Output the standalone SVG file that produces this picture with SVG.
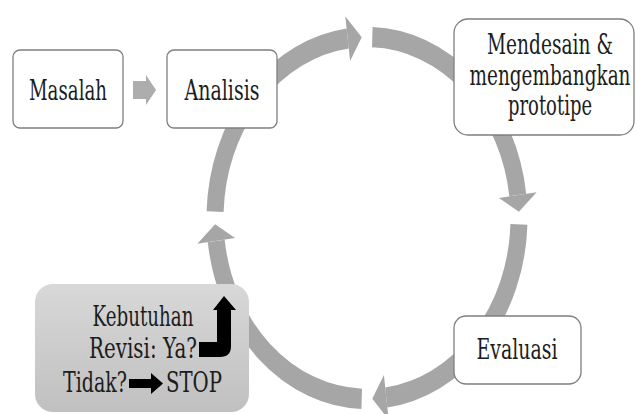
<svg xmlns="http://www.w3.org/2000/svg" width="636" height="414" viewBox="0 0 636 414">
<style>
.box{fill:#ffffff;stroke:#7f7f7f;stroke-width:1.3}
.t{font-family:'DejaVu Serif','Liberation Serif',serif;font-size:18.5px;fill:#1c1c1c;text-anchor:middle}
.ts{font-family:'DejaVu Serif','Liberation Serif',serif;font-size:18.5px;fill:#1c1c1c;text-anchor:start}
.arc{fill:none;stroke:#a6a6a6;stroke-width:17}
.head{fill:#a6a6a6}
</style>
<defs>
<linearGradient id="gk" x1="0" y1="0" x2="0" y2="1">
<stop offset="0" stop-color="#d8d8d8"/>
<stop offset="1" stop-color="#c0c0c0"/>
</linearGradient>
</defs>
<rect width="636" height="414" fill="#ffffff"/>
<g id="connectors">
<g transform="translate(367,218) scale(1,1.19)">
<path class="arc" d="M-151.91,-5.30 A152,152 0 0 1 -19.31,-150.77"/>
<polygon class="head" points="-5.30,-151.91 -16.90,-131.92 -21.73,-169.61"/>
<path class="arc" d="M5.30,-151.91 A152,152 0 0 1 150.77,-19.31"/>
<polygon class="head" points="151.91,-5.30 131.92,-16.90 169.61,-21.73"/>
<path class="arc" d="M151.91,5.30 A152,152 0 0 1 19.31,150.77"/>
<polygon class="head" points="5.30,151.91 16.90,131.92 21.73,169.61"/>
<path class="arc" d="M-5.30,151.91 A152,152 0 0 1 -150.77,19.31"/>
<polygon class="head" points="-151.91,5.30 -131.92,16.90 -169.61,21.73"/>
</g>
<polygon fill="#adadad" points="133,81 146,81 146,75 156,90 146,105 146,99 133,99"/>
</g>
<g id="masalah">
<rect class="box" x="13" y="50" width="110" height="78" rx="7"/>
<text class="t" textLength="78" lengthAdjust="spacingAndGlyphs" transform="matrix(1 0 0 1.48 68 100)">Masalah</text>
</g>
<g id="analisis">
<rect class="box" x="167" y="50" width="110" height="78" rx="7"/>
<text class="t" textLength="75" lengthAdjust="spacingAndGlyphs" transform="matrix(1 0 0 1.48 222 100)">Analisis</text>
</g>
<g id="mendesain">
<rect class="box" x="454" y="19" width="180" height="116" rx="14"/>
<text class="t" textLength="126" lengthAdjust="spacingAndGlyphs" transform="matrix(1 0 0 1.48 550 54)">Mendesain &amp;</text>
<text class="t" textLength="161" lengthAdjust="spacingAndGlyphs" transform="matrix(1 0 0 1.48 550 85)">mengembangkan</text>
<text class="t" textLength="84" lengthAdjust="spacingAndGlyphs" transform="matrix(1 0 0 1.48 550 115)">prototipe</text>
</g>
<g id="evaluasi">
<rect class="box" x="454" y="316" width="127" height="68" rx="12"/>
<text class="t" textLength="81" lengthAdjust="spacingAndGlyphs" transform="matrix(1 0 0 1.48 517 359)">Evaluasi</text>
</g>
<g id="kebutuhan">
<rect x="35" y="284" width="214" height="128" rx="18" fill="url(#gk)"/>
<text class="t" textLength="101" lengthAdjust="spacingAndGlyphs" transform="matrix(1 0 0 1.48 143 326)">Kebutuhan</text>
<text class="t" textLength="108" lengthAdjust="spacingAndGlyphs" transform="matrix(1 0 0 1.48 143 358)">Revisi: Ya?</text>
<text class="ts" textLength="64" lengthAdjust="spacingAndGlyphs" transform="matrix(1 0 0 1.48 63 392)">Tidak?</text>
<text class="ts" textLength="56" lengthAdjust="spacingAndGlyphs" transform="matrix(1 0 0 1.48 166 392)">STOP</text>
<path fill="#000000" d="M199,342 H217 V310 H213 L224,296 L236,310 H231 V346 Q231,357 220,357 H199 Z"/>
<polygon fill="#000000" points="129,379 151,379 151,373 163,383.5 151,394 151,388 129,388"/>
</g>
</svg>
